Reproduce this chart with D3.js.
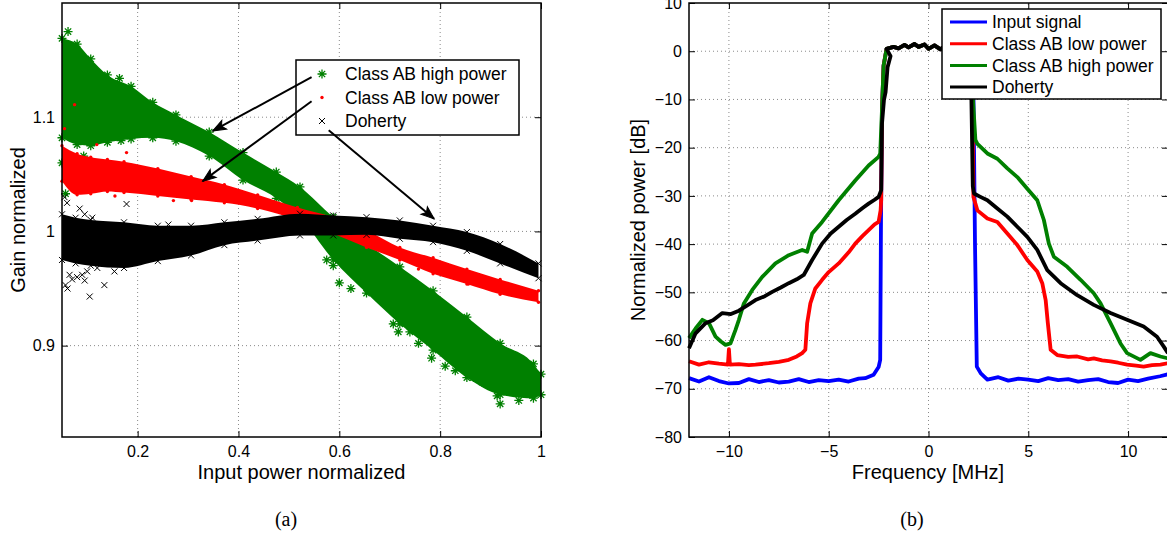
<!DOCTYPE html>
<html>
<head>
<meta charset="utf-8">
<script src="https://cdn.jsdelivr.net/npm/d3@7"></script>
<style>
body { margin: 0; background: #fff; }
svg { display: block; font-family: "Liberation Sans", Arial, Helvetica, sans-serif; }
</style>
</head>
<body>
<svg id="fig" width="1167" height="535"></svg>
<script>
'use strict';

// ---------- (a) gain vs input power: band envelopes ----------
var hpX     = [0.05, 0.08, 0.107, 0.14, 0.187, 0.23, 0.276, 0.342, 0.409, 0.475, 0.522, 0.588, 0.654, 0.72, 0.786, 0.853, 0.919, 0.985, 1.0];
var hpUpper = [1.169, 1.164, 1.151, 1.137, 1.127, 1.113, 1.102, 1.087, 1.069, 1.052, 1.039, 1.0125, 0.9895, 0.969, 0.948, 0.925, 0.902, 0.884, 0.875];
var hpLower = [1.082, 1.076, 1.075, 1.078, 1.081, 1.082, 1.079, 1.066, 1.045, 1.029, 1.012, 0.975, 0.946, 0.919, 0.896, 0.872, 0.857, 0.854, 0.857];
var hpOut   = [[0.062, 1.175], [0.164, 1.134], [0.05, 1.06], [0.057, 1.033], [0.06, 1.045], [0.093, 1.066],
               [0.167, 1.0795], [0.575, 0.975], [0.588, 0.97], [0.6, 0.955], [0.623, 0.95], [0.707, 0.919],
               [0.717, 0.912], [0.74, 0.912], [0.757, 0.902], [0.783, 0.889], [0.81, 0.882], [0.83, 0.878],
               [0.866, 0.872], [0.883, 0.868], [0.913, 0.856], [0.919, 0.849], [0.956, 0.852]];

var lpX     = [0.05, 0.08, 0.107, 0.14, 0.173, 0.24, 0.306, 0.372, 0.438, 0.517, 0.588, 0.654, 0.72, 0.786, 0.853, 0.919, 0.995];
var lpUpper = [1.075, 1.068, 1.065, 1.063, 1.061, 1.055, 1.048, 1.041, 1.032, 1.021, 1.0125, 1.001, 0.986, 0.977, 0.967, 0.958, 0.948];
var lpLower = [1.044, 1.032, 1.033, 1.035, 1.034, 1.031, 1.028, 1.025, 1.02, 1.01, 0.998, 0.986, 0.975, 0.963, 0.954, 0.945, 0.938];
var lpOut   = [[0.075, 1.111], [0.055, 1.09], [0.178, 1.069], [0.119, 1.076], [0.155, 1.031], [0.271, 1.027],
               [0.307, 1.027], [0.757, 0.967], [0.856, 0.954], [0.946, 0.945]];

var dhX     = [0.05, 0.077, 0.107, 0.173, 0.24, 0.306, 0.372, 0.438, 0.522, 0.588, 0.654, 0.72, 0.786, 0.853, 0.919, 0.995];
var dhUpper = [1.015, 1.012, 1.01, 1.008, 1.005, 1.005, 1.008, 1.011, 1.0155, 1.014, 1.0125, 1.0096, 1.005, 0.9994, 0.989, 0.972];
var dhLower = [0.975, 0.972, 0.97, 0.968, 0.974, 0.979, 0.988, 0.992, 0.9965, 0.9965, 0.997, 0.9936, 0.9906, 0.983, 0.972, 0.959];
var dhOut   = [[0.055, 1.03], [0.06, 1.025], [0.085, 1.02], [0.095, 1.015], [0.11, 1.012], [0.065, 0.962],
               [0.07, 0.958], [0.08, 0.96], [0.09, 0.962], [0.1, 0.965], [0.12, 0.968], [0.105, 0.943],
               [0.061, 0.95], [0.057, 0.953], [0.134, 0.953], [0.095, 0.957], [0.154, 0.965], [0.178, 1.024],
               [0.261, 1.006]];

var gainXTicks = [0.2, 0.4, 0.6, 0.8, 1];
var gainYTicks = [0.9, 1, 1.1];
var gainLegend = ["Class AB high power", "Class AB low power", "Doherty"];
var arrowFrom  = [[0.545, 1.135], [0.545, 1.114], [0.579, 1.0886]];
var arrowTo    = [[0.349, 1.088], [0.329, 1.044], [0.788, 1.011]];

// ---------- (b) spectra, [MHz, dB] ----------
var inBand = [[-2.1, 0.5], [-1.75, 0.9], [-1.5, 0.6], [-1.2, 1.3], [-1.0, 0.8], [-0.7, 1.5], [-0.5, 0.9],
              [-0.2, 1.4], [0, 0.5], [0.3, 1.2], [0.6, 0.4], [0.9, 1.3], [1.2, 0.8], [1.5, 1.5], [1.8, 1.0], [2.0, 1.2]];

var inputLeft  = [[-12, -67.8], [-11.5, -68.5], [-11, -67.6], [-10.5, -68.4], [-10, -68.9], [-9.5, -68.8], [-9, -68.0],
                  [-8.5, -68.6], [-8, -68.2], [-7.5, -68.7], [-7, -68.5], [-6.5, -68.0], [-6, -68.6], [-5.5, -68.2],
                  [-5, -68.4], [-4.5, -68.1], [-4, -68.5], [-3.5, -67.9], [-3.17, -67.8], [-2.75, -67.1], [-2.5, -65.5],
                  [-2.42, -64], [-2.38, -35], [-2.33, -12], [-2.25, -3]];
var inputRight = [[2.25, -8], [2.33, -40], [2.42, -65.4], [2.62, -66.8], [2.95, -68.1], [3.5, -67.6], [4, -68.3],
                  [4.5, -67.9], [5, -68.1], [5.5, -68.4], [6, -67.8], [6.5, -68.2], [7, -68.0], [7.5, -68.5], [8, -68.2],
                  [8.5, -68.0], [9, -68.6], [9.5, -68.8], [10, -68.1], [10.5, -68.4], [11, -67.9], [11.6, -67.4], [12, -67.0]];

var lowLeft  = [[-12, -64.3], [-11.5, -65], [-11, -64.5], [-10.5, -64.8], [-10.05, -65], [-10, -61.8], [-9.95, -65],
                [-9.5, -64.9], [-9, -65.1], [-8.67, -65], [-8, -64.7], [-7.5, -64.4], [-7, -64], [-6.6, -63.3],
                [-6.33, -62.6], [-6.17, -61.9], [-6.08, -56.4], [-5.92, -52.3], [-5.67, -49.2], [-5.33, -47.4],
                [-5, -45.8], [-4.5, -44], [-4, -41.7], [-3.67, -39.9], [-3.3, -38.3], [-3, -37.1], [-2.7, -35.9],
                [-2.5, -35.4], [-2.4, -33], [-2.37, -30.9], [-2.33, -12], [-2.25, -3]];
var lowRight = [[2.2, -10], [2.25, -30.2], [2.45, -33], [2.95, -34.7], [3.45, -35.4], [3.95, -37.8], [4.45, -40.2],
                [4.95, -43.3], [5.45, -45.7], [5.7, -48.1], [5.87, -51.6], [5.98, -56.4], [6.12, -61.9], [6.45, -63],
                [7, -63.4], [7.45, -63.3], [8, -63.9], [8.28, -63.7], [8.7, -64.1], [9.12, -64.3], [9.5, -64.6],
                [9.95, -65], [10.4, -65.2], [10.78, -65.4], [11.2, -65.1], [11.62, -65], [12, -64.7]];

var highLeft  = [[-12, -59.5], [-11.67, -57.5], [-11.33, -55.7], [-11, -56.4], [-10.67, -59.2], [-10.4, -60.2],
                 [-10.17, -60.9], [-9.92, -60.6], [-9.67, -57.8], [-9.5, -55.7], [-9.25, -52.3], [-8.83, -49.5],
                 [-8.33, -46.8], [-7.67, -44], [-7, -42.3], [-6.33, -41.2], [-6.08, -41.6], [-5.83, -37.8],
                 [-5.33, -35.4], [-4.5, -30.9], [-3.67, -26.8], [-3, -23.7], [-2.5, -21.9], [-2.42, -21.2],
                 [-2.33, -12], [-2.25, -3]];
var highRight = [[2.2, -8], [2.35, -18.4], [2.45, -19.2], [2.95, -21.2], [3.45, -22.3], [3.95, -24.3], [4.45, -26.1],
                 [4.95, -28.5], [5.45, -30.9], [5.78, -35], [6.03, -39.9], [6.28, -42.6], [6.95, -44.7], [7.62, -47.4],
                 [8.28, -50.2], [8.62, -52.3], [9.12, -56.4], [9.62, -60.6], [9.95, -62.6], [10.62, -64], [11.12, -62.6],
                 [11.62, -63.3], [12, -63.7]];

var dohertyLeft  = [[-12, -61.6], [-11.67, -58.5], [-11.17, -56.4], [-10.8, -55.8], [-10.33, -54.3], [-9.9, -54.5],
                    [-9.5, -53.8], [-9, -52.5], [-8.67, -51.6], [-8.2, -50.8], [-7.83, -49.9], [-7.4, -49], [-7, -48.1],
                    [-6.6, -47.3], [-6.25, -46.4], [-5.83, -43.3], [-5.33, -39.9], [-4.9, -37.8], [-4.5, -36.4],
                    [-4.1, -35], [-3.67, -33.7], [-3.3, -32.5], [-3, -31.6], [-2.7, -30.8], [-2.5, -30.2], [-2.37, -28.8],
                    [-2.33, -15], [-2.23, -10.1], [-2.15, -8.5], [-2.05, -3.3], [-1.9, -1]];
var dohertyRight = [[2.1, -2], [2.15, -10], [2.22, -28], [2.28, -29.5], [2.6, -30.2], [2.95, -30.9], [3.45, -32.6],
                    [3.95, -34.3], [4.45, -36.4], [4.95, -38.5], [5.45, -41.2], [5.95, -45.4], [6.62, -48.1],
                    [7.45, -50.6], [8.28, -52.6], [9.12, -54.3], [9.95, -55.7], [10.78, -57.1], [11.45, -59.2],
                    [11.78, -61.2], [12, -62.6]];

var specXTicks = [-10, -5, 0, 5, 10];
var specYTicks = [-80, -70, -60, -50, -40, -30, -20, -10, 0, 10];
var specLegend = ["Input signal", "Class AB low power", "Class AB high power", "Doherty"];
var specColors = ["#0000ff", "#ff0000", "#008000", "#000000"];

var svg = d3.select("#fig");
var fmt = d3.format("");

// grid, ticks on all four sides, labels on bottom/left
function frame(g, x, y, xt, yt) {
    var x0 = x.range()[0], x1 = x.range()[1], y0 = y.range()[0], y1 = y.range()[1];
    var grid = g.append("g").attr("stroke", "#8a8a8a").attr("stroke-width", 1).attr("stroke-dasharray", "1,3");
    xt.filter(function(t){ return t > x.domain()[0] && t < x.domain()[1]; }).forEach(function(t){
        grid.append("line").attr("x1", x(t)).attr("x2", x(t)).attr("y1", y0).attr("y2", y1);
    });
    yt.filter(function(t){ return t > y.domain()[0] && t < y.domain()[1]; }).forEach(function(t){
        grid.append("line").attr("x1", x0).attr("x2", x1).attr("y1", y(t)).attr("y2", y(t));
    });
    var axes = [
        g.append("g").attr("transform", "translate(0," + y0 + ")")
            .call(d3.axisBottom(x).tickValues(xt).tickSizeInner(-6).tickSizeOuter(0).tickPadding(9).tickFormat(fmt)),
        g.append("g").attr("transform", "translate(0," + y1 + ")")
            .call(d3.axisTop(x).tickValues(xt).tickSizeInner(-6).tickSizeOuter(0).tickFormat("")),
        g.append("g").attr("transform", "translate(" + x0 + ",0)")
            .call(d3.axisLeft(y).tickValues(yt).tickSizeInner(-6).tickSizeOuter(0).tickPadding(7).tickFormat(fmt)),
        g.append("g").attr("transform", "translate(" + x1 + ",0)")
            .call(d3.axisRight(y).tickValues(yt).tickSizeInner(-6).tickSizeOuter(0).tickFormat(""))
    ];
    axes.forEach(function(a){
        a.attr("font-family", null).attr("font-size", 16);
        a.select(".domain").remove();
        a.selectAll("line").attr("stroke", "#000");
        a.selectAll("text").attr("fill", "#000");
    });
}

function box(g, x, y) {
    g.append("rect")
        .attr("x", x.range()[0]).attr("y", y.range()[1])
        .attr("width", x.range()[1] - x.range()[0]).attr("height", y.range()[0] - y.range()[1])
        .attr("fill", "none").attr("stroke", "#000").attr("stroke-width", 1.5);
}

function starPath(r) {
    var a = r * 0.7;
    return "M" + (-r) + ",0H" + r + "M0," + (-r) + "V" + r +
           "M" + (-a) + "," + (-a) + "L" + a + "," + a + "M" + (-a) + "," + a + "L" + a + "," + (-a);
}
function crossPath(r) {
    return "M" + (-r) + "," + (-r) + "L" + r + "," + r + "M" + (-r) + "," + r + "L" + r + "," + (-r);
}

function marker(g, kind, cx, cy) {
    if (kind === "star") {
        g.append("path").attr("d", starPath(4.5)).attr("transform", "translate(" + cx + "," + cy + ")")
            .attr("stroke", "#008000").attr("stroke-width", 1.3).attr("fill", "none");
    } else if (kind === "dot") {
        g.append("circle").attr("cx", cx).attr("cy", cy).attr("r", 1.7).attr("fill", "#ff0000");
    } else {
        g.append("path").attr("d", crossPath(3)).attr("transform", "translate(" + cx + "," + cy + ")")
            .attr("stroke", "#000").attr("stroke-width", 1).attr("fill", "none");
    }
}

// ================= (a) =================
var xa = d3.scaleLinear().domain([0.05, 1]).range([62, 541]);
var ya = d3.scaleLinear().domain([0.82, 1.2]).range([437, 3]);
var ga = svg.append("g");
frame(ga, xa, ya, gainXTicks, gainYTicks);

var bands = [
    {xs: hpX, up: hpUpper, lo: hpLower, out: hpOut, color: "#008000", kind: "star"},
    {xs: lpX, up: lpUpper, lo: lpLower, out: lpOut, color: "#ff0000", kind: "dot"},
    {xs: dhX, up: dhUpper, lo: dhLower, out: dhOut, color: "#000000", kind: "cross"}
];
bands.forEach(function(b){
    var area = d3.area()
        .x(function(d, i){ return xa(b.xs[i]); })
        .y0(function(d, i){ return ya(b.lo[i]); })
        .y1(function(d, i){ return ya(b.up[i]); })
        .curve(d3.curveMonotoneX);
    var layer = ga.append("g");
    layer.append("path").attr("d", area(b.xs)).attr("fill", b.color);
    b.xs.forEach(function(v, i){
        marker(layer, b.kind, xa(v), ya(b.up[i]));
        marker(layer, b.kind, xa(v), ya(b.lo[i]));
    });
    b.out.forEach(function(p){ marker(layer, b.kind, xa(p[0]), ya(p[1])); });
});
box(ga, xa, ya);

// legend (a)
ga.append("rect").attr("x", 296).attr("y", 60).attr("width", 223).attr("height", 75)
    .attr("fill", "#fff").attr("stroke", "#000").attr("stroke-width", 1.5);
["star", "dot", "cross"].forEach(function(k, i){
    var ly = 74 + i * 23.5;
    marker(ga, k, 322, ly);
    ga.append("text").attr("x", 345).attr("y", ly).attr("dy", "0.35em")
        .attr("font-size", 17.5).text(gainLegend[i]);
});

// arrows
arrowFrom.forEach(function(f, i){
    var x1 = xa(f[0]), y1 = ya(f[1]), x2 = xa(arrowTo[i][0]), y2 = ya(arrowTo[i][1]);
    var ang = Math.atan2(y2 - y1, x2 - x1) * 180 / Math.PI;
    ga.append("line").attr("x1", x1).attr("y1", y1).attr("x2", x2).attr("y2", y2)
        .attr("stroke", "#000").attr("stroke-width", 2);
    ga.append("path").attr("d", "M0,0L-13,-5L-10,0L-13,5Z")
        .attr("transform", "translate(" + x2 + "," + y2 + ") rotate(" + ang + ")")
        .attr("fill", "#000").attr("stroke", "#000").attr("stroke-width", 1);
});

ga.append("text").attr("x", 301.5).attr("y", 479).attr("text-anchor", "middle")
    .attr("font-size", 20).text("Input power normalized");
ga.append("text").attr("transform", "translate(25,220) rotate(-90)").attr("text-anchor", "middle")
    .attr("font-size", 20).text("Gain normalized");
ga.append("text").attr("x", 286).attr("y", 526).attr("text-anchor", "middle")
    .attr("font-family", "'Liberation Serif','Times New Roman',serif").attr("font-size", 20).text("(a)");

// ================= (b) =================
var xb = d3.scaleLinear().domain([-12, 12]).range([689, 1168]);
var yb = d3.scaleLinear().domain([-80, 10]).range([437, 3]);
var gb = svg.append("g");
frame(gb, xb, yb, specXTicks, specYTicks);

var spectra = [
    inputLeft.concat(inBand, inputRight),
    lowLeft.concat(inBand, lowRight),
    highLeft.concat(inBand, highRight),
    dohertyLeft.concat(inBand, dohertyRight)
];
var line = d3.line().x(function(d){ return xb(d[0]); }).y(function(d){ return yb(d[1]); });
spectra.forEach(function(s, i){
    gb.append("path").attr("d", line(s)).attr("fill", "none")
        .attr("stroke", specColors[i]).attr("stroke-width", 3.8).attr("stroke-linejoin", "round");
});
box(gb, xb, yb);

// legend (b)
gb.append("rect").attr("x", 942).attr("y", 9).attr("width", 219).attr("height", 90)
    .attr("fill", "#fff").attr("stroke", "#000").attr("stroke-width", 1.5);
specLegend.forEach(function(t, i){
    var ly = 22 + i * 21.7;
    gb.append("line").attr("x1", 950).attr("x2", 987).attr("y1", ly).attr("y2", ly)
        .attr("stroke", specColors[i]).attr("stroke-width", 3);
    gb.append("text").attr("x", 992).attr("y", ly).attr("dy", "0.35em")
        .attr("font-size", 17.5).text(t);
});

gb.append("text").attr("x", 928).attr("y", 479).attr("text-anchor", "middle")
    .attr("font-size", 20).text("Frequency [MHz]");
gb.append("text").attr("transform", "translate(645,220) rotate(-90)").attr("text-anchor", "middle")
    .attr("font-size", 20).text("Normalized power [dB]");
gb.append("text").attr("x", 912).attr("y", 526).attr("text-anchor", "middle")
    .attr("font-family", "'Liberation Serif','Times New Roman',serif").attr("font-size", 20).text("(b)");
</script>
</body>
</html>
